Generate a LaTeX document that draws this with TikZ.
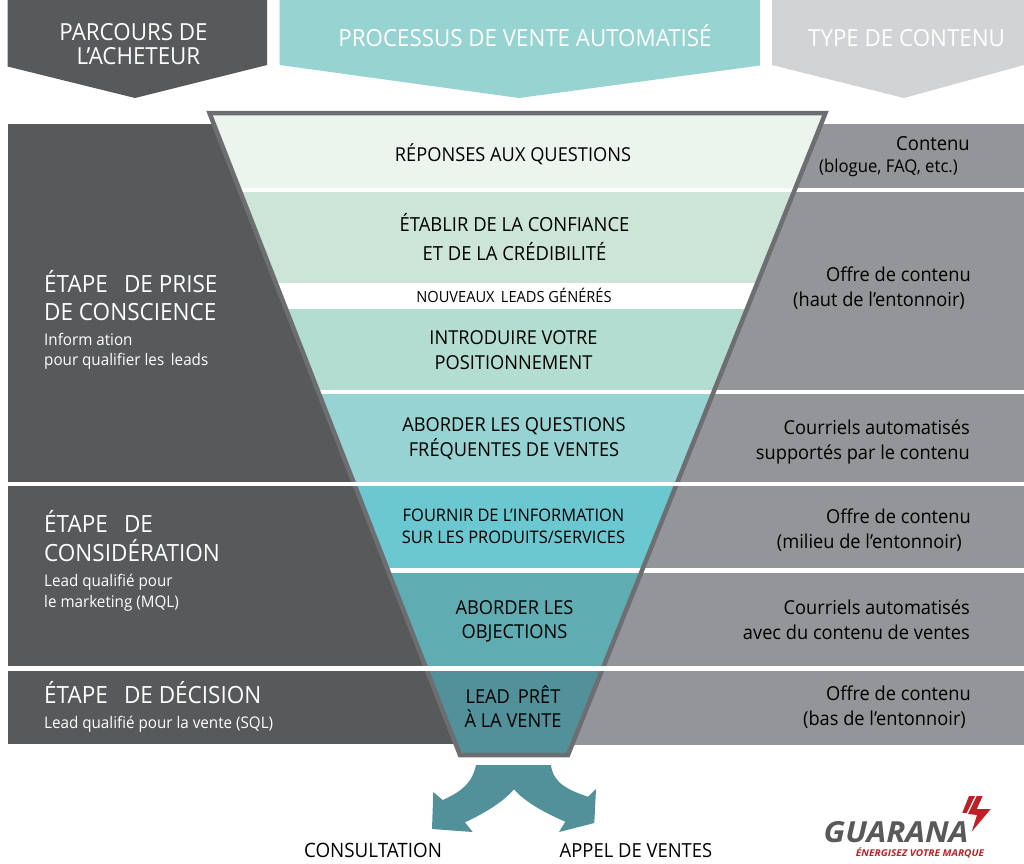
\documentclass[tikz,border=0pt]{standalone}
\usepackage{fontspec}
\setmainfont{Open Sans}[FakeStretch=0.95]
\newfontfamily\logofont{Open Sans}[FakeStretch=1.08]
\definecolor{dark}{HTML}{58595B}
\definecolor{midgrey}{HTML}{939598}
\definecolor{lightgrey}{HTML}{D1D3D4}
\definecolor{edge}{HTML}{6D6E71}
\definecolor{tealhead}{HTML}{97D3D1}
\definecolor{band1}{HTML}{ECF4EE}
\definecolor{band2}{HTML}{CDE5D6}
\definecolor{band3}{HTML}{B2DDD0}
\definecolor{band4}{HTML}{97D3D2}
\definecolor{band5}{HTML}{6CC8D0}
\definecolor{band6}{HTML}{5FACB2}
\definecolor{band7}{HTML}{52919A}
\definecolor{logored}{HTML}{BE2026}
\newcommand{\gapp}{\hspace{0.68em}}
\tikzset{x=1pt,y=-1pt,
 txt/.style={inner sep=0,anchor=base},
 head/.style={txt,font=\fontsize{23.5}{24.5}\selectfont,text=white,align=center},
 lab/.style={txt,font=\fontsize{19.2}{24.5}\selectfont,text=black,align=center},
 big/.style={txt,anchor=base west,font=\fontsize{23.7}{28.3}\selectfont,text=white,align=left},
 small/.style={txt,anchor=base west,font=\fontsize{16}{20.5}\selectfont,text=white,align=left},
 rlab/.style={txt,anchor=base east,font=\fontsize{19.2}{24.7}\selectfont,text=black,align=right}}
\begin{document}
\begin{tikzpicture}
\useasboundingbox (0,0) rectangle (1024,863);
% headers
\fill[dark] (7.5,0)--(267,0)--(267,65)--(135,98)--(7.5,66.5)--cycle;
\fill[tealhead] (279.5,0)--(760,0)--(760,65.5)--(519,98)--(279.5,65)--cycle;
\fill[lightgrey] (772,0)--(1024,0)--(1024,65)--(904,98)--(772,65)--cycle;
% side panels
\fill[dark] (7.5,124) rectangle (514,744);
\fill[midgrey] (514,123.5) rectangle (1024,745);
\fill[white] (514,187.5) rectangle (1024,192);
\fill[white] (514,390) rectangle (1024,394);
\fill[white] (514,568) rectangle (1024,572.5);
% funnel bands
\begin{scope}
\clip (209.5,113)--(825.5,113)--(568,755)--(460,755)--cycle;
\fill[band1] (200,113) rectangle (830,188);
\fill[white] (200,188) rectangle (830,192);
\fill[band2] (200,192) rectangle (830,283);
\fill[white] (200,283) rectangle (830,309);
\fill[band3] (200,309) rectangle (830,390);
\fill[white] (200,390) rectangle (830,394);
\fill[band4] (200,394) rectangle (830,482);
\fill[band5] (200,486) rectangle (830,568);
\fill[white] (200,568) rectangle (830,572.5);
\fill[band6] (200,572.5) rectangle (830,666);
\fill[band7] (200,671) rectangle (830,755);
\end{scope}
\draw[edge,line width=4.5pt,miter limit=10] (209.5,113)--(825.5,113)--(568,755)--(460,755)--cycle;
\fill[white] (0,482) rectangle (1024,486);
\fill[white] (0,666) rectangle (1024,671);
% header text
\node[head] (parcours) at (133.5,64.5) {PARCOURS DE\\\hspace*{10pt}L’ACHETEUR};
\node[head] (processus) at (525,46) {PROCESSUS DE VENTE AUTOMATISÉ};
\node[head] (type) at (906.5,46.7) {TYPE DE CONTENU};
% funnel text
\node[lab] (l1) at (513,161) {RÉPONSES AUX QUESTIONS};
\node[lab,font=\fontsize{19.4}{28.3}\selectfont] (l2) at (514.5,260) {ÉTABLIR DE LA CONFIANCE\\ET DE LA CRÉDIBILITÉ};
\node[lab,font=\fontsize{15.4}{17}\selectfont] (l3) at (514,302.5) {NOUVEAUX\, LEADS GÉNÉRÉS};
\node[lab] (l4) at (513.5,369.3) {INTRODUIRE VOTRE\\POSITIONNEMENT};
\node[lab] (l5) at (514,456) {ABORDER LES QUESTIONS\\FRÉQUENTES DE VENTES};
\node[lab,font=\fontsize{17.3}{22}\selectfont] (l6) at (513.5,543.3) {FOURNIR DE L’INFORMATION\\SUR LES PRODUITS/SERVICES};
\node[lab] (l7) at (514.5,638.5) {ABORDER LES\\OBJECTIONS};
\node[lab] (l8) at (513,727.7) {LEAD\, PRÊT\\À LA VENTE};
% left text
\node[big] (e1) at (44,320.5) {ÉTAPE\gapp DE PRISE\\DE CONSCIENCE};
\node[small] (s1) at (44,365.5) {Inform ation\\pour qualifier les\, leads};
\node[big] (e2) at (44,561) {ÉTAPE\gapp DE\\CONSIDÉRATION};
\node[small] (s2) at (44,607.3) {Lead qualifié pour\\le marketing (MQL)};
\node[big] (e3) at (44,703) {ÉTAPE\gapp DE DÉCISION};
\node[small] (s3) at (44,728.3) {Lead qualifié pour la vente (SQL)};
% right text
\node[txt,font=\fontsize{19.4}{24}\selectfont] (r1a) at (933,150.7) {Contenu};
\node[txt,font=\fontsize{17.6}{20}\selectfont] (r1b) at (888.5,172.7) {(blogue, FAQ, etc.)};
\node[rlab] (r2) at (971,306) {Offre de contenu\\(haut de l’entonnoir)\hspace*{6pt}};
\node[rlab] (r3) at (970,459) {Courriels automatisés\\supportés par le contenu};
\node[rlab] (r4) at (971,548) {Offre de contenu\\(milieu de l’entonnoir)\hspace*{9pt}};
\node[rlab] (r5) at (970,639) {Courriels automatisés\\avec du contenu de ventes};
\node[rlab] (r6) at (971,725.3) {Offre de contenu\\(bas de l’entonnoir)\hspace*{5pt}};
% arrow
\fill[band7] (476,765) .. controls (472,785) and (458,793) .. (442.7,800) -- (433.3,792) -- (432,829) -- (472.7,832) -- (465,822.3) .. controls (485,813) and (503,802) .. (514,789.3) .. controls (525,802) and (545,813) .. (565.3,821.7) -- (559,832) -- (594.3,823) -- (596,789) -- (588,796.7) .. controls (568,790) and (553,783) .. (551,765) -- cycle;
\node[lab,font=\fontsize{19.8}{22}\selectfont] (consult) at (373,857) {CONSULTATION};
\node[lab,font=\fontsize{19.4}{22}\selectfont] (appel) at (636,857) {APPEL DE VENTES};
% logo
\fill[logored] (969,796)--(975,796)--(966.7,813)--(962.3,812.7)--cycle;
\fill[logored] (976.7,796)--(982.7,796)--(976.7,809)--(990.7,809)--(971.7,831.7)--(977,815)--(968,814)--cycle;
\node[txt,font=\logofont\fontsize{29}{30}\bfseries\itshape\selectfont,text=dark] (guarana) at (896,842) {GUARANA};
\node[txt,font=\logofont\fontsize{9.4}{12}\bfseries\itshape\selectfont,text=logored] (slogan) at (920,856.5) {ÉNERGISEZ VOTRE MARQUE};
\end{tikzpicture}
\end{document}
